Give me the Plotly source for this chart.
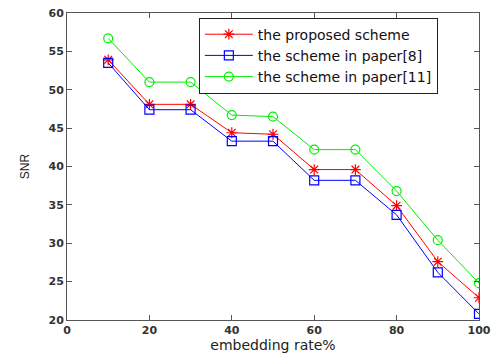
import plotly.graph_objects as go

# embedding rate (%)
rate = [10, 20, 30, 40, 50, 60, 70, 80, 90, 100]

# SNR of each scheme
snr_proposed = [53.9, 48.1, 48.1, 44.4, 44.2, 39.6, 39.6, 34.9, 27.6, 22.9]
snr_paper8 = [53.5, 47.4, 47.4, 43.3, 43.3, 38.2, 38.2, 33.7, 26.2, 20.8]
snr_paper11 = [56.7, 51.0, 51.0, 46.7, 46.5, 42.2, 42.2, 36.8, 30.4, 24.8]

names = ["the proposed scheme", "the scheme in paper[8]", "the scheme in paper[11]"]
colors = ["#ff0000", "#0000ff", "#00ee00"]
symbols = ["asterisk-open", "square-open", "circle-open"]

fig = go.Figure()
for ys, name, c, s in zip([snr_proposed, snr_paper8, snr_paper11], names, colors, symbols):
    fig.add_trace(go.Scatter(
        x=rate, y=ys, name=name, mode="lines+markers",
        line=dict(color=c, width=1),
        marker=dict(symbol=s, size=9, color=c, line=dict(color=c, width=1.2)),
    ))

axis_common = dict(
    showgrid=False, zeroline=False, showline=True, linecolor="#555555", linewidth=1,
    mirror="ticks", ticks="inside", ticklen=5, tickcolor="#555555", automargin=False,
    tickfont=dict(family="DejaVu Sans", size=11, color="#333333", weight="bold"),
)

fig.update_layout(
    width=495, height=354,
    margin=dict(l=67, r=16, t=13, b=34),
    paper_bgcolor="white", plot_bgcolor="white",
    xaxis=dict(range=[0, 100], tickvals=[0, 20, 40, 60, 80, 100],
               title=dict(text="embedding rate%", standoff=2,
                          font=dict(family="DejaVu Sans", size=14, color="#222222")),
               **axis_common),
    yaxis=dict(range=[20, 60], tickvals=[20, 25, 30, 35, 40, 45, 50, 55, 60],
               title=dict(text="SNR", standoff=16,
                          font=dict(family="Liberation Sans", size=12, color="#222222")),
               **axis_common),
    legend=dict(x=0.32, y=0.985, xanchor="left", yanchor="top",
                bordercolor="#222222", borderwidth=1, bgcolor="white",
                font=dict(family="DejaVu Sans", size=14, color="#111111"),
                tracegroupgap=0, itemwidth=48),
    showlegend=True,
)

fig.write_html("out.html")
